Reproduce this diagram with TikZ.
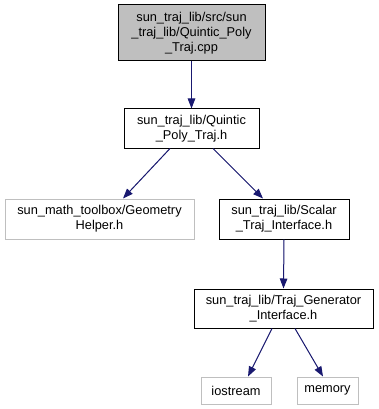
\documentclass[tikz,border=0pt]{standalone}
\usepackage{fontspec}
\setmainfont{Liberation Sans}
\usetikzlibrary{arrows.meta}
\definecolor{edgeblue}{HTML}{191970}
\definecolor{boxgray}{HTML}{BFBFBF}
\begin{document}
\begin{tikzpicture}[x=1pt,y=-1pt,
  box/.style={draw=black,line width=1pt,fill=white,inner sep=0pt,align=center,
    font=\fontsize{12.8}{15}\selectfont},
  extbox/.style={box,draw=boxgray},
  rootbox/.style={box,fill=boxgray},
  dep/.style={draw=edgeblue,line width=1pt,-{Triangle[length=10pt,width=7.5pt]},fill=edgeblue}]
\useasboundingbox (0,0) rectangle (379,409);
\fill[white] (0,0) rectangle (379,409);
% header boxes, placed by centre with their measured sizes
\node[rootbox,minimum width=147pt,minimum height=56pt] (cpp) at (191.5,33)
  {sun\_traj\_lib/src/sun\\\_traj\_lib/Quintic\_Poly\\\_Traj.cpp};
\node[box,minimum width=135pt,minimum height=39pt] (quintic) at (191.5,128.5)
  {sun\_traj\_lib/Quintic\\\_Poly\_Traj.h};
\node[extbox,minimum width=189pt,minimum height=40pt] (geom) at (99.5,219)
  {sun\_math\_toolbox/Geometry\\Helper.h};
\node[box,minimum width=130pt,minimum height=40pt] (scalar) at (284,219)
  {sun\_traj\_lib/Scalar\\\_Traj\_Interface.h};
\node[box,minimum width=179pt,minimum height=39pt] (gen) at (283.5,308.5)
  {sun\_traj\_lib/Traj\_Generator\\\_Interface.h};
\node[extbox,minimum width=70pt,minimum height=27pt] (ios) at (236,390.5) {iostream};
\node[extbox,minimum width=61pt,minimum height=27pt] (mem) at (327.5,390.5) {memory};
% include edges
\draw[dep] (cpp.south) -- (quintic.north);
\draw[dep] ([xshift=-21.5pt]quintic.south) -- ([xshift=23.5pt]geom.north);
\draw[dep] ([xshift=21.5pt]quintic.south) -- ([xshift=-21pt]scalar.north);
\draw[dep] (scalar.south) -- (gen.north);
\draw[dep] ([xshift=-11.5pt]gen.south) -- ([xshift=12pt]ios.north);
\draw[dep] ([xshift=11.5pt]gen.south) -- ([xshift=-4.5pt]mem.north);
\end{tikzpicture}
\end{document}
